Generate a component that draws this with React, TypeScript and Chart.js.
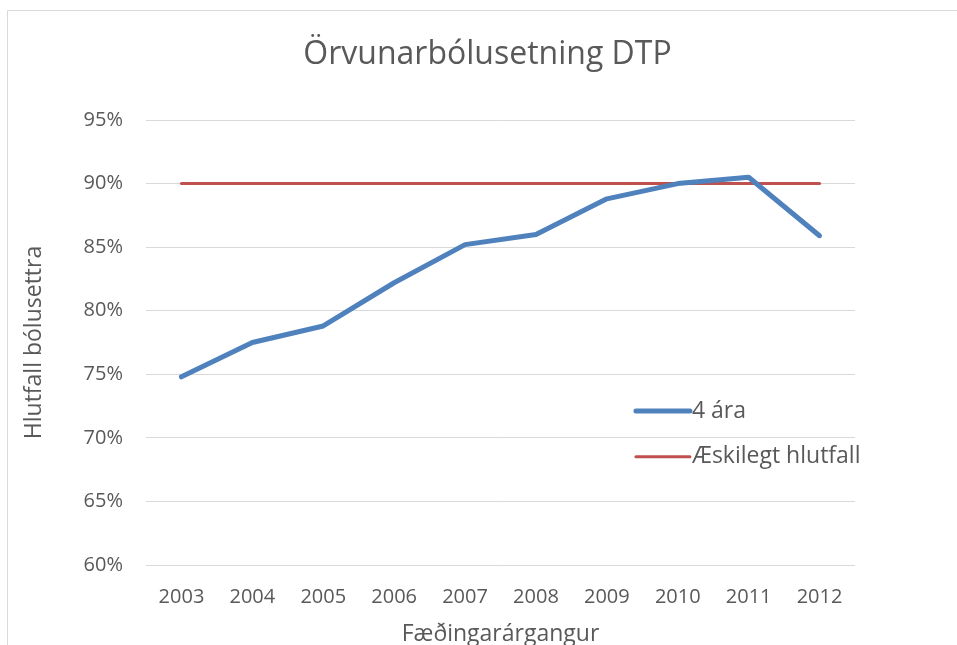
import React, { useEffect, useRef } from 'react';
import { Chart, registerables } from 'chart.js';

Chart.register(...registerables);

const years = ['2003', '2004', '2005', '2006', '2007', '2008', '2009', '2010', '2011', '2012'];
const fourYearOlds = [74.8, 77.5, 78.8, 82.2, 85.2, 86.0, 88.8, 90.0, 90.5, 85.9];
const targetRate = [90, 90, 90, 90, 90, 90, 90, 90, 90, 90];
const yMin = 60;
const yMax = 95;
const yStep = 5;

const TEXT = '#595959';
const GRID = '#D9D9D9';
const FONT = "'Open Sans', 'Liberation Sans', sans-serif";

const framePlugin = {
  id: 'frame',
  beforeDraw(chart: any) {
    const ctx = chart.ctx;
    ctx.save();
    ctx.fillStyle = '#ffffff';
    ctx.fillRect(0, 0, chart.width, chart.height);
    ctx.strokeStyle = GRID;
    ctx.lineWidth = 1;
    ctx.beginPath();
    ctx.moveTo(7.5, chart.height);
    ctx.lineTo(7.5, 10.5);
    ctx.lineTo(chart.width, 10.5);
    ctx.stroke();
    ctx.restore();
  },
};

const insideLegend = {
  id: 'insideLegend',
  afterDatasetsDraw(chart: any) {
    const { ctx, chartArea } = chart;
    const w = chartArea.right - chartArea.left;
    const h = chartArea.bottom - chartArea.top;
    const x0 = chartArea.left + w * 0.691;
    const lineLen = 54;
    const rows = [0.654, 0.757];
    ctx.save();
    chart.data.datasets.forEach((ds: any, i: number) => {
      const y = chartArea.top + h * rows[i];
      ctx.strokeStyle = ds.borderColor;
      ctx.lineWidth = ds.borderWidth;
      ctx.lineCap = 'round';
      ctx.beginPath();
      ctx.moveTo(x0, y);
      ctx.lineTo(x0 + lineLen, y);
      ctx.stroke();
      ctx.fillStyle = TEXT;
      ctx.font = `23px ${FONT}`;
      ctx.textBaseline = 'middle';
      ctx.textAlign = 'left';
      ctx.fillText(ds.label, x0 + lineLen + 2, y);
    });
    ctx.restore();
  },
};

export default function App() {
  const ref = useRef<HTMLCanvasElement | null>(null);

  useEffect(() => {
    if (!ref.current) return;
    const chart = new Chart(ref.current, {
      type: 'line',
      data: {
        labels: years,
        datasets: [
          {
            label: '4 ára',
            data: fourYearOlds,
            borderColor: '#4F81BD',
            backgroundColor: '#4F81BD',
            borderWidth: 5,
            pointRadius: 0,
            tension: 0,
            borderCapStyle: 'round',
            borderJoinStyle: 'round',
          },
          {
            label: 'Æskilegt hlutfall',
            data: targetRate,
            borderColor: '#C0504D',
            backgroundColor: '#C0504D',
            borderWidth: 3,
            pointRadius: 0,
            tension: 0,
            borderCapStyle: 'round',
          },
        ],
      },
      options: {
        responsive: false,
        animation: false,
        layout: { padding: { left: 18, right: 0, top: 0, bottom: -3 } },
        plugins: {
          legend: { display: false },
          tooltip: { enabled: false },
          title: {
            display: true,
            text: 'Örvunarbólusetning DTP',
            color: TEXT,
            font: { family: FONT, size: 32, weight: 'normal' },
            padding: { top: 36, bottom: 45.6 },
          },
        },
        scales: {
          x: {
            type: 'category',
            offset: true,
            grid: { display: false, drawTicks: false },
            border: { display: false },
            ticks: { color: TEXT, font: { family: FONT, size: 20 }, padding: 20, maxRotation: 0 },
            title: {
              display: true,
              text: 'Fæðingarárgangur',
              color: TEXT,
              font: { family: FONT, size: 23 },
              padding: { top: 0, bottom: 0 },
            },
            afterFit(scale: any) {
              scale.height = 83;
            },
          },
          y: {
            min: yMin,
            max: yMax,
            grid: { color: GRID, lineWidth: 1, drawTicks: false },
            border: { display: false },
            ticks: {
              stepSize: yStep,
              color: TEXT,
              font: { family: FONT, size: 20 },
              padding: 23,
              callback: (v: any) => `${v}%`,
            },
            title: {
              display: true,
              text: 'Hlutfall bólusettra',
              color: TEXT,
              font: { family: FONT, size: 23 },
              padding: { top: 3, bottom: 0 },
            },
            afterFit(scale: any) {
              scale.width = 128;
            },
          },
          yRight: {
            position: 'right',
            display: true,
            grid: { display: false, drawTicks: false },
            border: { display: false },
            ticks: { display: false },
            afterFit(scale: any) {
              scale.width = 102;
            },
          },
        },
      },
      plugins: [framePlugin, insideLegend],
    } as any);
    return () => chart.destroy();
  }, []);

  return (
    <div style={{ position: 'absolute', left: 0, top: 0, width: 957, height: 645, background: '#fff' }}>
      <canvas ref={ref} width={957} height={645} style={{ display: 'block', width: 957, height: 645 }} />
    </div>
  );
}
